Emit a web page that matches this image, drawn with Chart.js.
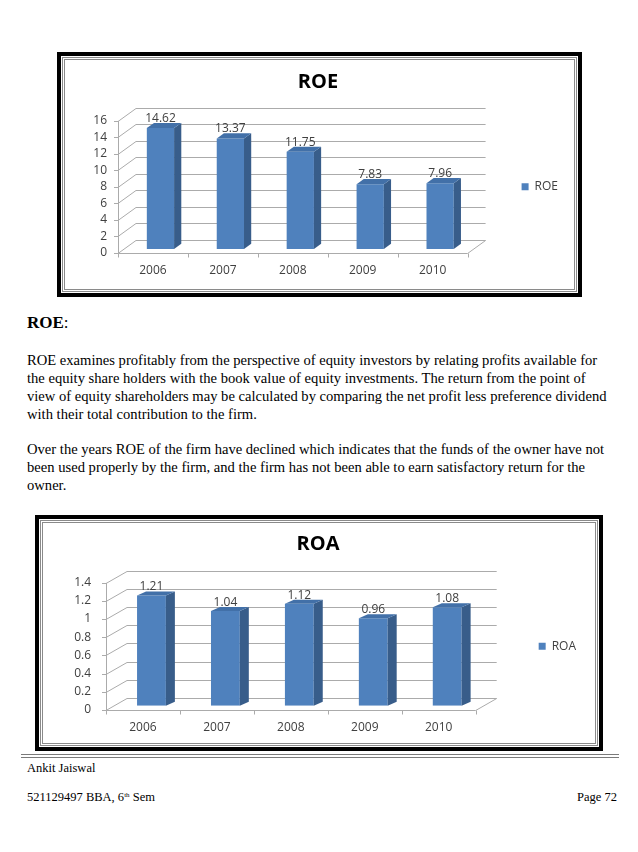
<!DOCTYPE html>
<html>
<head>
<meta charset="utf-8">
<script src="https://cdn.jsdelivr.net/npm/chart.js@4.4.0/dist/chart.umd.min.js"></script>
<style>
  html, body { margin: 0; padding: 0; background: #fff; }
  body { width: 638px; height: 852px; position: relative; overflow: hidden;
         font-family: "Liberation Serif", "Times New Roman", serif; color: #000; }
  .frame { position: absolute; box-sizing: border-box; border: 4px solid #000; background: #fff; }
  .frame .inner { position: absolute; left: 1px; top: 1px; right: 1px; bottom: 1px;
                  border: 3px double #8a8a8a; box-sizing: border-box; }
  .frame canvas { position: absolute; left: 0; top: 0; }
  #f1 { left: 57px; top: 52px; width: 525px; height: 245px; }
  #f2 { left: 35px; top: 515px; width: 568px; height: 236px; }
  .line { position: absolute; left: 27px; white-space: nowrap; font-size: 14.6px; line-height: 18px; }
  .head { position: absolute; left: 27px; top: 313px; font-size: 17px; line-height: 20px; }
  .rule { position: absolute; left: 21px; top: 754px; width: 598px; height: 0;
          border-top: 4px double #7a7a7a; }
  .foot { position: absolute; font-size: 12.5px; line-height: 14px; white-space: nowrap; }
  .foot sup { font-size: 7px; vertical-align: 4px; line-height: 0; }
</style>
</head>
<body>

<div class="frame" id="f1"><div class="inner"></div><canvas id="roeChart" width="517" height="237"></canvas></div>

<div class="head"><b>ROE</b>:</div>
<div class="line" style="top:351px">ROE examines profitably from the perspective of equity investors by relating profits available for</div>
<div class="line" style="top:369px">the equity share holders with the book value of equity investments. The return from the point of</div>
<div class="line" style="top:387px">view of equity shareholders may be calculated by comparing the net profit less preference dividend</div>
<div class="line" style="top:405px">with their total contribution to the firm.</div>
<div class="line" style="top:440px">Over the years ROE of the firm have declined which indicates that the funds of the owner have not</div>
<div class="line" style="top:458px">been used properly by the firm, and the firm has not been able to earn satisfactory return for the</div>
<div class="line" style="top:476px">owner.</div>

<div class="frame" id="f2"><div class="inner"></div><canvas id="roaChart" width="560" height="228"></canvas></div>

<div class="rule"></div>
<div class="foot" style="left:27px; top:761px">Ankit Jaiswal</div>
<div class="foot" style="left:27px; top:790px">521129497 BBA, 6<sup>th</sup> Sem</div>
<div class="foot" style="right:21px; top:790px">Page 72</div>

<script>
// data
const years = ['2006', '2007', '2008', '2009', '2010'];
const roeValues = [14.62, 13.37, 11.75, 7.83, 7.96];
const roaValues = [1.21, 1.04, 1.12, 0.96, 1.08];
const roeTicks = [0, 2, 4, 6, 8, 10, 12, 14, 16];
const roaTicks = [0, 0.2, 0.4, 0.6, 0.8, 1, 1.2, 1.4];

const inkGrey = '#404040';
const chartFont = 'Open Sans';

// fake the office 3D look: back wall, floor and bar side/top faces
const bar3d = {
    id: 'bar3d',
    beforeDatasetsDraw(chart, args, opts) {
        const ctx = chart.ctx;
        const a = chart.chartArea;
        const yScale = chart.scales.y;
        const n = chart.data.labels.length;
        ctx.save();
        ctx.lineWidth = 1;
        ctx.strokeStyle = opts.wallColor;
        yScale.ticks.forEach((t) => {
            const py = Math.round(yScale.getPixelForValue(t.value)) + 0.5;
            ctx.beginPath();
            ctx.moveTo(a.left, py);
            ctx.lineTo(a.left + opts.depth.x, py + opts.depth.y);
            ctx.lineTo(a.right + opts.depth.x, py + opts.depth.y);
            ctx.stroke();
            //small tick on the front axis
            ctx.beginPath();
            ctx.moveTo(a.left - 4, py);
            ctx.lineTo(a.left, py);
            ctx.stroke();
        });
        const by = Math.round(a.bottom) + 0.5;
        const lx = Math.round(a.left) + 0.5;
        ctx.beginPath();
        ctx.moveTo(lx, Math.round(yScale.getPixelForValue(yScale.max)));
        ctx.lineTo(lx, by);
        ctx.lineTo(a.right, by);
        ctx.lineTo(a.right + opts.depth.x, by + opts.depth.y);
        ctx.stroke();
        //category ticks under the floor
        const step = (a.right - a.left) / n;
        for (let i = 0; i <= n; i++) {
            const px = Math.round(a.left + i * step) + 0.5;
            ctx.beginPath();
            ctx.moveTo(px, by);
            ctx.lineTo(px, by + 4);
            ctx.stroke();
        }
        ctx.restore();
        //bars stand a little back from the front plane
        ctx.save();
        ctx.translate(opts.shift.x, opts.shift.y);
    },
    afterDatasetsDraw(chart, args, opts) {
        const ctx = chart.ctx;
        const meta = chart.getDatasetMeta(0);
        const values = chart.data.datasets[0].data;
        const dx = opts.barDepth.x, dy = opts.barDepth.y;
        meta.data.forEach((bar, i) => {
            const p = bar.getProps(['x', 'y', 'base', 'width'], true);
            const l = p.x - p.width / 2, r = p.x + p.width / 2;
            ctx.fillStyle = opts.sideColor;
            ctx.beginPath();
            ctx.moveTo(r, p.y);
            ctx.lineTo(r + dx, p.y + dy);
            ctx.lineTo(r + dx, p.base + dy);
            ctx.lineTo(r, p.base);
            ctx.closePath();
            ctx.fill();
            ctx.fillStyle = opts.topColor;
            ctx.beginPath();
            ctx.moveTo(l, p.y);
            ctx.lineTo(l + dx, p.y + dy);
            ctx.lineTo(r + dx, p.y + dy);
            ctx.lineTo(r, p.y);
            ctx.closePath();
            ctx.fill();
            ctx.fillStyle = inkGrey;
            ctx.font = '12px "' + chartFont + '"';
            ctx.textAlign = 'center';
            ctx.textBaseline = 'middle';
            ctx.fillText(String(values[i]), p.x, p.y + dy - opts.labelGap);
        });
        ctx.restore();
    }
};

function buildChart(canvasId, title, values, ticks, look) {
    const tickFont = { family: chartFont, size: 12 };
    return new Chart(document.getElementById(canvasId), {
        type: 'bar',
        data: {
            labels: years,
            datasets: [{
                label: title,
                data: values,
                backgroundColor: '#4F81BD',
                borderWidth: 0,
                barPercentage: 0.39,
                categoryPercentage: 1
            }]
        },
        options: {
            responsive: false,
            animation: false,
            devicePixelRatio: 1,
            layout: { padding: look.pad },
            scales: {
                x: {
                    grid: { display: false, drawTicks: false },
                    border: { display: false },
                    ticks: { color: inkGrey, font: tickFont, padding: 10, maxRotation: 0, autoSkip: false },
                    afterFit: (s) => { s.height = 30; }
                },
                y: {
                    min: 0,
                    max: ticks[ticks.length - 1],
                    grid: { display: false, drawTicks: false },
                    border: { display: false },
                    afterBuildTicks: (s) => { s.ticks = ticks.map((v) => ({ value: v })); },
                    ticks: { color: inkGrey, font: tickFont, padding: look.yPad, autoSkip: false, callback: (v) => String(v) },
                    afterFit: (s) => { s.width = look.yWidth; }
                }
            },
            plugins: {
                title: {
                    display: true,
                    text: title,
                    color: '#000',
                    font: { family: chartFont, size: 20, weight: 'bold' },
                    padding: { top: look.titleTop, bottom: look.titleBottom }
                },
                legend: {
                    position: 'right',
                    fullSize: false,
                    labels: { boxWidth: 7, boxHeight: 7, padding: look.legendGap, color: inkGrey, font: tickFont }
                },
                tooltip: { enabled: false },
                bar3d: {
                    wallColor: '#ababab',
                    sideColor: '#385D8A',
                    topColor: '#4270A8',
                    depth: look.depth,
                    shift: look.shift,
                    barDepth: look.barDepth,
                    labelGap: 4.5
                }
            }
        },
        plugins: [bar3d]
    });
}

buildChart('roeChart', 'ROE', roeValues, roeTicks, {
    pad: { left: 7, right: 10, top: 0, bottom: 10 },
    yWidth: 50, yPad: 11,
    titleTop: 14, titleBottom: 26.7,
    legendGap: 54,
    depth: { x: 18, y: -13 },
    shift: { x: 7.5, y: -4 },
    barDepth: { x: 7.2, y: -5.2 }
});

buildChart('roaChart', 'ROA', roaValues, roaTicks, {
    pad: { left: 11, right: 13, top: 0, bottom: 7 },
    yWidth: 56, yPad: 15,
    titleTop: 13, titleBottom: 26.5,
    legendGap: 63,
    depth: { x: 21, y: -12 },
    shift: { x: 8.5, y: -4.3 },
    barDepth: { x: 9, y: -4 }
});
</script>
</body>
</html>
